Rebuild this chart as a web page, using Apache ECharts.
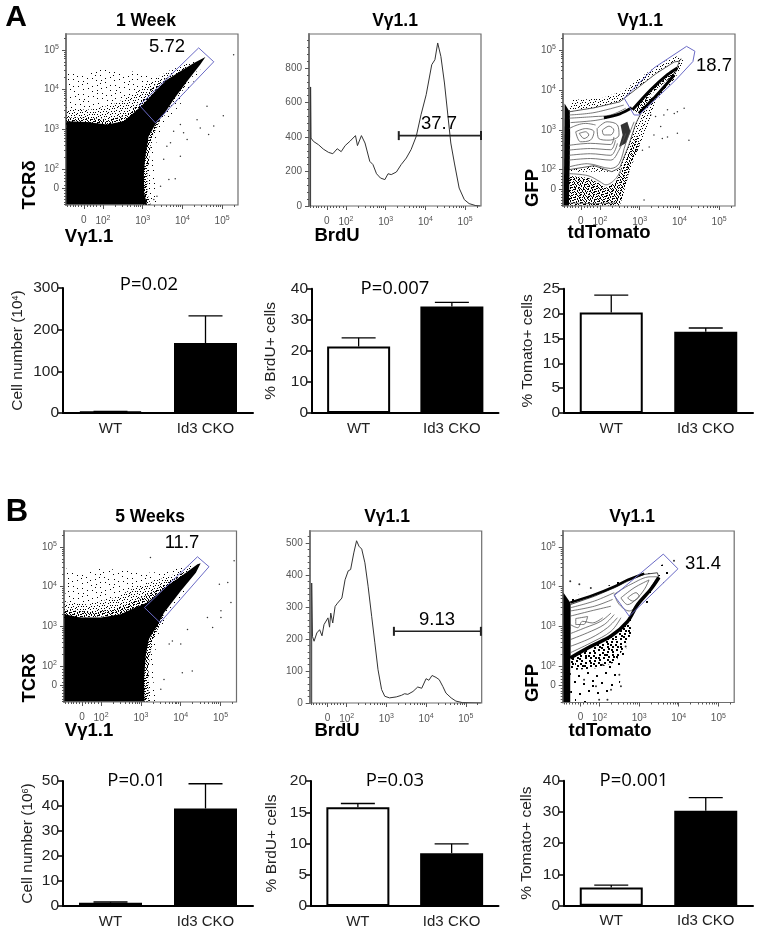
<!DOCTYPE html>
<html>
<head>
<meta charset="utf-8">
<style>html,body{margin:0;background:#fff}#main{width:759px;height:933px}</style>
<script src="https://cdn.jsdelivr.net/npm/echarts@6/dist/echarts.min.js"></script>
</head>
<body>
<div id="main"></div>
<script>
// flow axes are in log10 display units, 1.52 is where the "0" tick sits
var flowTicks = [1.52, 2, 3, 4, 5];
var flowMinor = [1.1,1.17,1.24,1.31,1.38,1.45,1.6,1.68,1.76,1.84,1.92,2.3,2.48,2.6,2.7,2.78,2.85,2.9,2.95,3.3,3.48,3.6,3.7,3.78,3.85,3.9,3.95,4.3,4.48,4.6,4.7,4.78,4.85,4.9,4.95,5.3];

var barCategories = ['WT', 'Id3 CKO'];
var a1Means = [4, 168], a1Tops = [4, 233];
var a2Means = [21.4, 34.3], a2Tops = [24.2, 35.6];
var a3Means = [20.2, 16.35], a3Tops = [23.7, 17.1];
var b1Means = [1.3, 39], b1Tops = [1.6, 48.9];
var b2Means = [15.8, 8.45], b2Tops = [16.4, 9.95];
var b3Means = [5.8, 30.4], b3Tops = [6.6, 34.6];

// histograms [log10 position, count]
var histA = [[1.11,0],[1.11,690],[1.12,394],[1.18,375],[1.31,355],[1.43,330],[1.56,311],[1.67,303],[1.78,332],[1.88,315],[1.98,350],[2.10,375],[2.24,408],[2.29,350],[2.39,408],[2.48,365],[2.60,259],[2.68,240],[2.77,187],[2.87,162],[2.98,153],[3.06,187],[3.14,182],[3.27,197],[3.39,240],[3.52,278],[3.64,327],[3.77,404],[3.89,529],[4.02,645],[4.16,819],[4.24,848],[4.31,945],[4.39,867],[4.48,713],[4.56,539],[4.64,365],[4.73,249],[4.85,104],[4.98,37],[5.10,14],[5.27,2],[5.38,0]];
var histB = [[1.12,0],[1.12,375],[1.14,208],[1.18,193],[1.25,219],[1.32,229],[1.38,210],[1.43,245],[1.48,240],[1.53,266],[1.57,237],[1.60,281],[1.65,250],[1.71,302],[1.77,312],[1.88,328],[1.96,385],[2.04,413],[2.10,417],[2.18,469],[2.25,507],[2.31,490],[2.38,481],[2.46,438],[2.54,365],[2.63,271],[2.71,188],[2.79,104],[2.88,42],[2.96,21],[3.08,16],[3.25,19],[3.38,24],[3.46,29],[3.54,27],[3.67,36],[3.79,50],[3.89,46],[4.00,76],[4.07,71],[4.15,86],[4.25,80],[4.33,73],[4.42,52],[4.50,31],[4.63,16],[4.75,6],[4.92,1],[5.38,0]];
var histATicks = [0,200,400,600,800];
var histAMinor = [40,80,120,160,240,280,320,360,440,480,520,560,640,680,720,760,840,880,920,960];
var histBTicks = [0,100,200,300,400,500];
var histBMinor = [20,40,60,80,120,140,160,180,220,240,260,280,320,340,360,380,420,440,460,480,520];
var gateHistA = [[3.33,408],[5.4,408]];
var gateHistB = [[3.19,224],[5.38,224]];

// dot plot A1
var a1Mass = [[1.08,1.10],[1.08,3.20],[1.60,3.18],[2.10,3.12],[2.52,3.20],[2.77,3.41],[2.98,3.60],[3.36,4.00],[3.61,4.25],[3.95,4.46],[4.29,4.67],[4.58,4.82],[4.45,4.63],[4.12,4.21],[3.78,3.75],[3.53,3.37],[3.32,3.12],[3.15,2.82],[3.07,2.32],[3.03,1.90],[3.04,1.39],[3.11,1.10]];
var a1Cloud = [[1.08,3.0],[1.09,4.42],[1.5,4.4],[1.93,4.55],[2.5,4.4],[2.94,4.5],[3.3,4.3],[3.7,4.45],[4.1,4.6],[4.1,4.2],[3.3,3.0]];
var a1Band = [[1.08,3.0],[1.08,3.5],[1.7,3.5],[2.2,3.6],[2.7,3.85],[3.1,4.1],[3.6,4.45],[4.1,4.65],[4.3,4.7],[4.1,4.1],[3.3,3.0]];
var a1Near = [[1.08,3.1],[1.08,3.3],[1.7,3.28],[2.2,3.25],[2.6,3.35],[2.9,3.65],[3.3,4.1],[3.7,4.35],[3.3,3.6],[2.5,3.0]];
var a1Fringe = [[3.0,1.1],[3.0,3.0],[3.3,3.2],[3.7,3.6],[4.3,4.4],[4.5,4.6],[4.0,3.7],[3.55,3.1],[3.35,2.7],[3.3,2.3],[3.3,1.9],[3.4,1.3],[3.4,1.1]];
var a1FringeNear = [[3.0,1.1],[3.0,3.0],[3.3,3.15],[3.45,3.25],[3.22,2.75],[3.17,2.3],[3.12,1.9],[3.12,1.39],[3.2,1.1]];
var a1Gate = [[2.92,3.60],[4.41,5.05],[4.79,4.70],[3.32,3.16],[2.92,3.60]];
var a1Dots = [[4.37,3.24],[3.95,3.12],[4.45,3.03],[4.66,2.87],[4.79,3.08],[5.03,3.34],[5.29,4.88],[4.62,3.58],[3.66,1.73],[3.82,1.75],[3.45,1.56],[4.12,2.74],[3.95,2.32],[3.61,2.57],[3.53,2.24],[3.70,2.66],[3.78,2.95],[4.03,2.91],[3.36,1.31],[3.28,1.23]];

// dot plot B1
var b1Mass = [[1.08,1.10],[1.08,3.30],[1.48,3.22],[2.0,3.22],[2.49,3.30],[2.82,3.45],[3.16,3.60],[3.66,4.02],[4.08,4.31],[4.42,4.56],[4.50,4.59],[4.38,4.35],[4.0,3.89],[3.58,3.34],[3.41,3.01],[3.20,2.67],[3.12,2.25],[3.08,1.66],[3.09,1.10]];
var b1Cloud = [[1.08,3.2],[1.14,4.52],[1.5,4.3],[1.98,4.45],[2.66,4.42],[3.24,4.35],[3.7,4.4],[4.2,4.55],[4.1,4.0],[3.3,3.3]];
var b1Band = [[1.08,3.2],[1.08,3.6],[1.7,3.55],[2.3,3.7],[2.8,3.95],[3.3,4.12],[3.8,4.3],[4.3,4.55],[4.1,4.0],[3.3,3.3]];
var b1Near = [[1.08,3.2],[1.08,3.42],[1.7,3.36],[2.3,3.42],[2.8,3.62],[3.2,3.82],[3.7,4.12],[4.1,4.38],[4.0,4.0],[3.0,3.3]];
var b1Fringe = [[3.0,1.1],[3.0,3.0],[3.4,3.3],[3.9,3.8],[4.4,4.3],[4.5,4.5],[4.0,3.7],[3.6,3.15],[3.4,2.7],[3.35,2.2],[3.3,1.7],[3.4,1.1]];
var b1FringeNear = [[3.0,1.1],[3.0,3.0],[3.4,3.1],[3.6,3.3],[3.3,2.65],[3.22,2.25],[3.18,1.66],[3.2,1.1]];
var b1Gate = [[3.09,3.47],[4.42,4.75],[4.71,4.50],[3.48,3.09],[3.09,3.47]];
var b1Dots = [[4.97,4.06],[5.18,4.10],[5.26,3.60],[5.01,3.39],[5.01,3.22],[4.80,2.97],[4.67,3.22],[5.34,4.65],[3.71,2.55],[3.79,2.63],[4.17,2.92],[4.29,1.87],[4.04,1.83],[3.58,1.66],[3.50,1.41],[4.0,2.55],[3.24,4.73]];

// contour plot A3
var a3Outer = [[1.22,3.45],[1.3,3.75],[2.0,3.78],[2.6,3.98],[3.0,4.3],[3.5,4.65],[3.9,4.85],[4.12,4.75],[3.9,4.3],[3.45,3.75],[3.2,3.1],[3.0,2.6],[2.75,2.0],[2.5,1.95],[1.22,1.95]];
var a3Low = [[1.22,1.85],[1.7,1.8],[2.0,1.65],[2.15,1.55],[2.4,1.7],[2.6,2.1],[2.75,2.5],[2.95,2.9],[3.0,2.6],[2.75,2.0],[2.6,1.4],[2.5,1.1],[1.22,1.1]];
var a3Edge = [[1.09,1.1],[1.11,3.66],[1.24,3.45],[1.25,2.9],[1.22,1.1]];
var a3Body = [[1.22,3.45],[1.85,3.55],[2.5,3.7],[2.95,4.05],[3.4,4.4],[3.87,4.7],[4.0,4.72],[3.9,4.45],[3.45,3.95],[3.1,3.55],[2.9,3.15],[2.72,2.6],[2.5,2.05],[2.3,1.95],[1.85,2.1],[1.22,2.0]];
var a3Branch = [[2.82,3.5],[3.28,4.0],[3.7,4.38],[3.95,4.55],[4.02,4.62],[3.87,4.38],[3.7,4.17],[3.36,3.79],[2.98,3.41]];
var a3Lobe = [[2.52,3.12],[2.69,3.2],[2.77,2.95],[2.65,2.66],[2.48,2.57],[2.57,2.87]];
var a3Contours = [
  [[1.22,3.37],[1.85,3.43],[2.6,3.62]],
  [[1.22,3.29],[1.85,3.33],[2.27,3.37],[2.65,3.54]],
  [[1.26,3.18],[1.85,3.23],[2.18,3.29]],
  [[1.22,2.07],[1.68,2.15],[2.27,2.03],[2.48,2.15],[2.65,2.66],[2.86,3.2]],
  [[1.22,2.24],[1.76,2.28],[2.27,2.24],[2.48,2.49],[2.65,2.91]],
  [[1.22,2.36],[1.76,2.4],[2.27,2.36],[2.44,2.66]],
  [[1.22,2.49],[1.76,2.53],[2.27,2.5],[2.39,2.74]],
  [[1.22,2.61],[1.76,2.66],[2.27,2.63],[2.35,2.82]],
  [[1.39,2.95],[1.64,3.03],[1.85,2.95],[1.76,2.74],[1.51,2.7],[1.39,2.95]],
  [[1.48,2.91],[1.64,2.95],[1.72,2.87],[1.6,2.78],[1.48,2.91]],
  [[1.93,3.03],[2.18,3.2],[2.44,3.12],[2.48,2.87],[2.23,2.74],[1.97,2.78],[1.93,3.03]],
  [[2.06,2.99],[2.23,3.09],[2.35,2.99],[2.27,2.87],[2.1,2.87],[2.06,2.99]],
  [[1.22,3.03],[1.43,3.12],[1.64,3.16],[1.89,3.12]],
  [[1.22,1.9],[1.7,1.85],[2.0,1.7],[2.15,1.62],[2.4,1.78],[2.55,2.05]],
  [[1.22,1.17],[1.8,1.15],[2.4,1.17]]
];
var a3Dark = [
  [[2.1,3.3],[2.5,3.4],[2.8,3.55]],
  [[2.82,3.5],[3.28,4.0],[3.7,4.38],[3.95,4.55]],
  [[2.98,3.41],[3.36,3.79],[3.7,4.17],[3.87,4.38]]
];
var a3Core = [[3.2,3.8],[3.5,4.08],[3.75,4.3],[3.6,4.05],[3.35,3.82],[3.2,3.8]];
var a3Gate = [[2.61,3.79],[3.36,4.55],[4.18,5.09],[4.39,4.97],[4.34,4.71],[3.91,4.25],[2.98,3.37],[2.86,3.37],[2.61,3.79]];
var a3Dots = [[3.28,3.37],[3.40,3.33],[3.61,3.37],[3.70,3.50],[3.87,3.41],[3.95,3.45],[4.12,3.54],[3.53,3.08],[3.36,2.87],[3.57,2.78],[3.70,2.82],[3.95,2.91],[4.24,2.74],[3.07,2.49],[3.24,2.57],[3.11,1.24],[2.94,2.49],[4.03,4.76],[3.15,3.75]];

// contour plot B3
var b3Outer = [[1.26,3.75],[1.9,3.9],[2.4,4.1],[2.9,4.3],[3.4,4.5],[3.75,4.6],[3.8,4.4],[3.55,4.0],[3.1,3.45],[2.8,3.0],[2.65,2.35],[2.5,1.5],[2.0,1.1],[1.26,1.1]];
var b3Strip = [[1.26,2.2],[1.8,2.5],[2.3,2.75],[2.7,3.1],[2.85,2.9],[2.6,2.45],[2.4,2.1],[1.9,1.95],[1.26,1.9]];
var b3Inner = [[1.26,3.55],[1.87,3.76],[2.37,3.97],[2.71,4.14],[3.13,4.31],[3.46,4.35],[3.5,4.23],[3.29,3.93],[2.96,3.55],[2.71,3.13],[2.29,2.76],[1.78,2.5],[1.26,2.21]];
var b3Edge = [[1.09,1.1],[1.09,3.85],[1.26,3.6],[1.26,1.1]];
var b3Contours = [
  [[1.26,3.47],[1.87,3.64],[2.37,3.85]],
  [[1.26,3.39],[1.87,3.51],[2.33,3.68]],
  [[1.26,3.26],[1.78,3.39],[2.29,3.51]],
  [[1.26,2.34],[1.78,2.59],[2.29,2.88],[2.54,3.22]],
  [[1.26,2.5],[1.78,2.71],[2.2,2.97],[2.45,3.22]],
  [[1.26,2.67],[1.69,2.84],[2.12,3.05],[2.37,3.3]],
  [[1.26,2.82],[1.64,2.97],[2.03,3.13],[2.29,3.34]],
  [[1.26,3.05],[1.45,2.97],[1.57,3.13],[1.82,3.09],[2.08,3.22]],
  [[2.37,3.81],[2.79,4.06],[3.29,4.25],[3.46,4.25],[3.29,3.97],[3.0,3.6],[2.75,3.39],[2.5,3.55],[2.37,3.81]],
  [[2.54,3.72],[2.87,3.97],[3.25,4.17],[3.13,3.93],[2.92,3.68],[2.71,3.55],[2.54,3.72]],
  [[2.71,3.72],[2.92,3.85],[3.0,3.76],[2.83,3.64],[2.71,3.72]],
  [[1.4,3.2],[1.7,3.25],[1.6,3.05],[1.4,3.05],[1.4,3.2]]
];
var b3DarkLow = [[1.26,2.21],[1.78,2.5],[2.29,2.76],[2.71,3.13],[2.96,3.55],[3.29,3.93],[3.5,4.23]];
var b3DarkTop = [[1.26,3.6],[1.87,3.8],[2.37,4.0],[2.71,4.17],[3.13,4.33]];
var b3Gate = [[2.37,3.78],[3.61,4.82],[3.98,4.45],[2.75,3.26],[2.37,3.78]];
var b3Dots = [[3.88,4.65],[1.26,4.14],[1.49,4.06],[1.78,3.97],[2.2,1.16],[1.99,1.16],[2.66,2.50],[2.29,1.41],[2.54,1.5],[1.91,1.5],[1.61,1.66],[2.08,2.04],[2.5,1.79]];

var FONT = 'Liberation Sans';
var GATE = '#6a6ac6';
var chart = echarts.init(document.getElementById('main'));
var grids = [], xAxes = [], yAxes = [], series = [];

// fine stipple texture for the dense dot clouds (a fill style, not data)
function stipple(count, size) {
  var c = document.createElement('canvas');
  c.width = 64; c.height = 64;
  var g = c.getContext('2d');
  g.fillStyle = '#000';
  for (var i = 1; i <= count; i++) {
    g.fillRect(Math.floor((i * 0.7548776662 % 1) * 64), Math.floor((i * 0.569840291 % 1) * 64), size, size);
  }
  return {image: c, repeat: 'repeat'};
}
var sparse = stipple(170, 1), medium = stipple(620, 1), dense = stipple(1500, 1);
var coarse = stipple(55, 2), coarseDense = stipple(320, 2);

function polygon(idx, pts, fill, stroke, width) {
  series.push({
    type: 'custom', xAxisIndex: idx, yAxisIndex: idx, silent: true, data: pts,
    renderItem: function (params, api) {
      if (params.dataIndex !== 0) return null;
      return {
        type: 'polygon',
        shape: {points: pts.map(function (p) { return api.coord(p); })},
        style: {fill: fill, stroke: stroke || null, lineWidth: width || 0}
      };
    }
  });
}
function line(idx, pts, color, width, smooth) {
  series.push({
    type: 'line', xAxisIndex: idx, yAxisIndex: idx, data: pts, showSymbol: false, silent: true,
    smooth: smooth ? 0.35 : false, lineStyle: {color: color, width: width}
  });
}
function dots(idx, pts, size) {
  series.push({type: 'scatter', xAxisIndex: idx, yAxisIndex: idx, data: pts, symbolSize: size || 1.5, silent: true, itemStyle: {color: '#000'}});
}

function sup(v) { return v === 1.52 ? '0' : '10{s|' + v + '}'; }
var supStyle = {s: {fontSize: 7, fontFamily: FONT, color: '#555', verticalAlign: 'bottom', padding: [0, 0, 5, 0]}};

function flowAxis(dim, min, max, ticks, minor, fmt) {
  var base = {type: 'value', min: min, max: max, splitLine: {show: false}, axisLine: {show: false}};
  var main = Object.assign({}, base, {
    axisTick: {show: true, length: 4, customValues: ticks, lineStyle: {color: '#555'}},
    axisLabel: {customValues: ticks, formatter: fmt, fontFamily: FONT, fontSize: 10, color: '#555', margin: dim === 'x' ? 10 : 7, rich: supStyle}
  });
  if (dim === 'y') main.axisLine = {show: true, lineStyle: {color: '#777', width: 2}};
  var small = Object.assign({}, base, {
    axisTick: {show: true, length: 2, customValues: minor, lineStyle: {color: '#555'}},
    axisLabel: {show: false}
  });
  return [main, small];
}

// adds a framed flow panel, returns axis index the series must use
function flowPanel(box, yMin, yMax, yTicks, yMinor, yFmt) {
  var g = grids.length;
  grids.push({left: box[0], top: box[1], width: box[2], height: box[3], show: true, backgroundColor: '#fff', borderColor: '#6e6e6e', borderWidth: 1.2});
  var xa = flowAxis('x', 1.07, 5.4, flowTicks, flowMinor, sup);
  var ya = flowAxis('y', yMin, yMax, yTicks, yMinor, yFmt);
  var idx = xAxes.length;
  xa.forEach(function (a) { a.gridIndex = g; a.position = 'bottom'; xAxes.push(a); });
  ya.forEach(function (a) { a.gridIndex = g; a.position = 'left'; yAxes.push(a); });
  return idx;
}

function barPanel(box, means, tops, yMax, step, name, gap) {
  var g = grids.length;
  grids.push({left: box[0], top: box[1], width: box[2], height: box[3]});
  var idx = xAxes.length;
  xAxes.push({
    type: 'category', gridIndex: g, data: barCategories,
    axisLine: {lineStyle: {color: '#000', width: 2}},
    axisTick: {alignWithLabel: true, length: 5, lineStyle: {color: '#000', width: 1.5}},
    axisLabel: {fontFamily: FONT, fontSize: 15, color: '#222', margin: 8}
  });
  yAxes.push({
    type: 'value', gridIndex: g, min: 0, max: yMax, interval: step, splitLine: {show: false},
    axisLine: {show: true, lineStyle: {color: '#000', width: 2}},
    axisTick: {show: true, length: 5, lineStyle: {color: '#000', width: 1.5}},
    axisLabel: {fontFamily: FONT, fontSize: 15.5, color: '#222', margin: 4},
    name: name, nameLocation: 'middle', nameGap: gap,
    nameTextStyle: {fontFamily: FONT, fontSize: 15.5, color: '#222',
      rich: {s: {fontSize: 9, fontFamily: FONT, color: '#222', verticalAlign: 'bottom', padding: [0, 0, 6, 0]}}}
  });
  series.push({
    type: 'bar', xAxisIndex: idx, yAxisIndex: idx, barWidth: 63, silent: true, z: 2,
    data: [
      {value: means[0], itemStyle: {color: '#fff', borderColor: '#000', borderWidth: 2}},
      {value: means[1], itemStyle: {color: '#000', borderColor: '#000', borderWidth: 2}}
    ]
  });
  series.push({
    type: 'custom', xAxisIndex: idx, yAxisIndex: idx, silent: true, z: 1,
    data: means.map(function (m, i) { return [i, m, tops[i]]; }),
    renderItem: function (params, api) {
      var a = api.coord([api.value(0), api.value(1)]);
      var b = api.coord([api.value(0), api.value(2)]);
      var st = {stroke: '#000', lineWidth: 1.3, fill: null};
      return {type: 'group', children: [
        {type: 'line', shape: {x1: a[0], y1: a[1], x2: b[0], y2: b[1]}, style: st},
        {type: 'line', shape: {x1: b[0] - 17, y1: b[1], x2: b[0] + 17, y2: b[1]}, style: st}
      ]};
    }
  });
}

var same = function (v) { return String(v); };

// panel A, dot plot
var p = flowPanel([66, 34, 172, 171], 1.09, 5.4, flowTicks, flowMinor, sup);
polygon(p, a1Cloud, sparse);
polygon(p, a1Band, medium);
polygon(p, a1Near, dense);
polygon(p, a1Fringe, sparse);
polygon(p, a1FringeNear, dense);
polygon(p, a1Mass, '#000');
dots(p, a1Dots);
line(p, a1Gate, GATE, 1);

// panel A, histogram
p = flowPanel([309, 34, 172, 172], 0, 997, histATicks, histAMinor, same);
line(p, histA, '#333', 1);
series.push({type: 'line', xAxisIndex: p, yAxisIndex: p, data: gateHistA, silent: true, symbol: 'rect', symbolSize: [2, 9], itemStyle: {color: '#222'}, lineStyle: {color: '#222', width: 1.6}});

// panel A, contours
p = flowPanel([563, 34, 172, 172], 1.09, 5.4, flowTicks, flowMinor, sup);
polygon(p, a3Outer, medium);
polygon(p, a3Low, dense);
polygon(p, a3Body, '#fff', '#444', 0.9);
polygon(p, a3Branch, dense);
polygon(p, a3Edge, '#000');
polygon(p, a3Lobe, '#333');
a3Contours.forEach(function (c) { line(p, c, '#555', 0.8, true); });
a3Dark.forEach(function (c) { line(p, c, '#000', 3, true); });
polygon(p, a3Core, '#fff');
dots(p, a3Dots);
line(p, a3Gate, GATE, 1);

// panel B, dot plot
p = flowPanel([64, 531, 172.5, 171], 1.09, 5.4, flowTicks, flowMinor, sup);
polygon(p, b1Cloud, sparse);
polygon(p, b1Band, medium);
polygon(p, b1Near, dense);
polygon(p, b1Fringe, sparse);
polygon(p, b1FringeNear, dense);
polygon(p, b1Mass, '#000');
dots(p, b1Dots);
line(p, b1Gate, GATE, 1);

// panel B, histogram
p = flowPanel([309.7, 531, 172, 172], 0, 537.5, histBTicks, histBMinor, same);
line(p, histB, '#333', 1);
series.push({type: 'line', xAxisIndex: p, yAxisIndex: p, data: gateHistB, silent: true, symbol: 'rect', symbolSize: [2, 9], itemStyle: {color: '#222'}, lineStyle: {color: '#222', width: 1.6}});

// panel B, contours
p = flowPanel([562.7, 531, 171.5, 171.5], 1.09, 5.4, flowTicks, flowMinor, sup);
polygon(p, b3Outer, coarse);
polygon(p, b3Strip, coarseDense);
polygon(p, b3Inner, '#fff', '#333', 0.9);
polygon(p, b3Edge, '#000');
b3Contours.forEach(function (c) { line(p, c, '#555', 0.8, true); });
line(p, b3DarkLow, '#000', 3.5, true);
line(p, b3DarkTop, '#000', 2.5, true);
dots(p, b3Dots, 2);
line(p, b3Gate, GATE, 1);

// bar rows
barPanel([63, 288, 190, 125], a1Means, a1Tops, 300, 100, 'Cell number (10{s|4})', 37);
barPanel([312, 288.7, 186.5, 124.3], a2Means, a2Tops, 40, 10, '% BrdU+ cells', 33);
barPanel([564, 288.7, 189, 124.3], a3Means, a3Tops, 25, 5, '% Tomato+ cells', 28);
barPanel([63, 781, 190, 125], b1Means, b1Tops, 50, 10, 'Cell number (10{s|6})', 27);
barPanel([311, 781, 187.5, 125], b2Means, b2Tops, 20, 5, '% BrdU+ cells', 31);
barPanel([564, 780.7, 189, 125], b3Means, b3Tops, 40, 10, '% Tomato+ cells', 29);

function text(str, x, y, size, weight, rot, family, color) {
  return {
    type: 'text', x: x, y: y, rotation: rot ? Math.PI / 2 : 0, z: 100, silent: true,
    style: {text: str, fontFamily: family || FONT, fontSize: size, fontWeight: weight || 'normal', fill: color || '#000', align: 'center', verticalAlign: 'middle'}
  };
}
var labels = [
  text('A', 16, 18, 30, 'bold'), text('B', 17, 512, 31, 'bold'),
  text('1 Week', 146, 21, 17.5, 'bold'), text('Vγ1.1', 395, 21, 17.5, 'bold'), text('Vγ1.1', 640, 21, 17.5, 'bold'),
  text('5 Weeks', 150, 517, 17.5, 'bold'), text('Vγ1.1', 387, 517, 17.5, 'bold'), text('Vγ1.1', 632, 517, 17.5, 'bold'),
  text('Vγ1.1', 89, 237, 18.5, 'bold'), text('BrdU', 337, 236, 18.5, 'bold'), text('tdTomato', 609, 233, 18.5, 'bold'),
  text('Vγ1.1', 89, 731, 18.5, 'bold'), text('BrdU', 337, 731, 18.5, 'bold'), text('tdTomato', 610, 731, 18.5, 'bold'),
  text('TCRδ', 30, 185, 18.5, 'bold', true), text('GFP', 533, 188, 18.5, 'bold', true),
  text('TCRδ', 30, 678, 18.5, 'bold', true), text('GFP', 533, 683, 18.5, 'bold', true),
  text('5.72', 167, 47, 18.5), text('37.7', 439, 124, 18.5), text('18.7', 714, 66, 18.5),
  text('11.7', 182, 543, 18.5), text('9.13', 437, 620, 18.5), text('31.4', 703, 564, 18.5),
  text('P=0.02', 149, 285, 18.5, null, false, 'Open Sans'), text('P=0.007', 395, 289, 18.5, null, false, 'Open Sans'),
  text('P=0.01', 136.5, 781, 18.5, null, false, 'Open Sans'), text('P=0.03', 395, 781, 18.5, null, false, 'Open Sans'), text('P=0.001', 634, 781, 18.5, null, false, 'Open Sans')
];

chart.setOption({
  animation: false,
  backgroundColor: '#fff',
  grid: grids,
  xAxis: xAxes,
  yAxis: yAxes,
  series: series,
  graphic: labels
});
</script>
</body>
</html>
